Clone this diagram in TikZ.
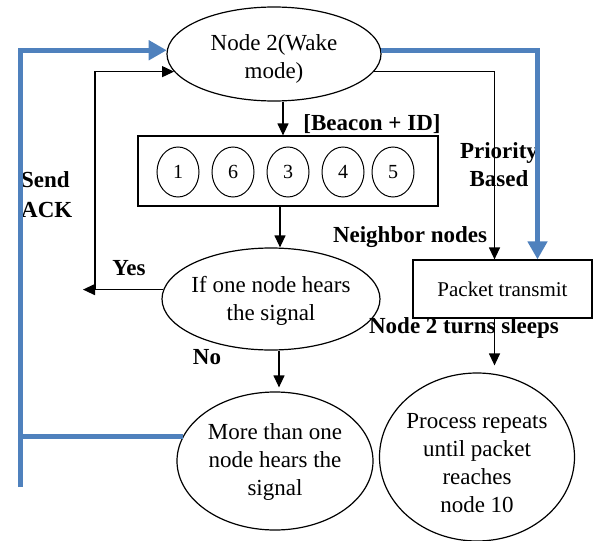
\documentclass[tikz,border=0pt]{standalone}
\usepackage{fontspec}
\setmainfont{Liberation Serif}
\usetikzlibrary{shapes.geometric,arrows.meta}
\definecolor{ackblue}{RGB}{79,129,189}
\newcommand{\ztxt}[2][0pt]{\makebox[0pt]{\raisebox{#1}[0pt][0pt]{\begin{tabular}{@{}c@{}}#2\end{tabular}}}}
\tikzset{
  oval/.style={draw, ellipse, line width=1.2pt, inner sep=0pt, font=\fontsize{23}{28}\selectfont},
  digit/.style={draw, ellipse, line width=1pt, inner sep=0pt, minimum width=42pt, minimum height=50pt, font=\fontsize{20}{24}\selectfont},
  box/.style={draw, rectangle, line width=1.2pt, inner sep=0pt},
  lbl/.style={font=\bfseries\fontsize{23}{28}\selectfont, inner sep=0pt},
  arr/.style={line width=1.2pt, -{Triangle[length=12pt,width=11pt]}},
  ackline/.style={draw=ackblue, line width=5pt},
  ackarr/.style={ackline, -{Triangle[length=18pt,width=19pt]}}
}
\begin{document}
\begin{tikzpicture}[x=1pt,y=-1pt]
\useasboundingbox (0,0) rectangle (595,541);
% nodes
\node[oval, minimum width=214pt, minimum height=94pt] (n2) at (274,54) {\ztxt[-10.75pt]{Node 2(Wake\\mode)}};
\node[box, minimum width=300pt, minimum height=70pt] (beacon) at (288,171) {};
\node[digit] (d1) at (178,172) {1};
\node[digit] (d6) at (233,172) {6};
\node[digit] (d3) at (288,172) {3};
\node[digit] (d4) at (343,172) {4};
\node[digit] (d5) at (393,172) {5};
\node[oval, minimum width=218pt, minimum height=102pt] (if) at (271,299) {\ztxt[-7.75pt]{If one node hears\\the signal}};
\node[oval, minimum width=196pt, minimum height=138pt] (more) at (275,461) {\ztxt[-6.75pt]{More than one\\node hears the\\signal}};
\node[oval, minimum width=195pt, minimum height=168pt] (process) at (477,457) {\ztxt[-13.75pt]{Process repeats\\until packet\\reaches\\node 10}};
\node[box, minimum width=179pt, minimum height=58pt, font=\fontsize{21}{25}\selectfont] (packet) at (502.5,289) {Packet transmit};
% labels
\node[lbl] (beaconlbl) at (372,124) {[Beacon + ID]};
\node[lbl, align=center] (prio) at (499,165) {Priority\\Based};
\node[lbl, align=left, anchor=west] (ack) at (21,195) {Send\\[2pt]ACK};
\node[lbl] (neigh) at (410,237) {Neighbor nodes};
\node[lbl] (yes) at (129,268) {Yes};
\node[lbl] (no) at (207,357) {No};
\node[lbl] (sleep) at (464,328) {Node 2 turns sleeps};
% coordinates
\coordinate (yesend) at (83,290);
\coordinate (loopx) at (95,290);
\coordinate (ackbot) at (20,487);
% black connectors
\draw[arr] ([xshift=9pt]n2.south) -- ([xshift=9pt]n2.south |- beacon.north);
\draw[arr] ([xshift=-8pt]beacon.south) -- ([xshift=-8pt]beacon.south |- if.north);
\draw[arr, shorten >=4pt] ([xshift=8pt]if.south) -- ([xshift=8pt]if.south |- more.north);
\draw[arr] (if.175) -- (if.175 -| yesend);
\draw[arr] (if.175 -| loopx) |- (n2.190);
\draw[arr] (n2.-10) -| ([xshift=-8pt]packet.north);
\draw[arr, shorten >=7pt] ([xshift=-8pt]packet.south) -- ([xshift=-8pt]packet.south |- process.north);
% blue connectors
\draw[ackarr] (ackbot) |- (n2.178);
\draw[ackline] (more.165) -- (more.165 -| ackbot);
\draw[ackarr] (n2.2) -| ([xshift=35pt]packet.north);
\end{tikzpicture}
\end{document}
